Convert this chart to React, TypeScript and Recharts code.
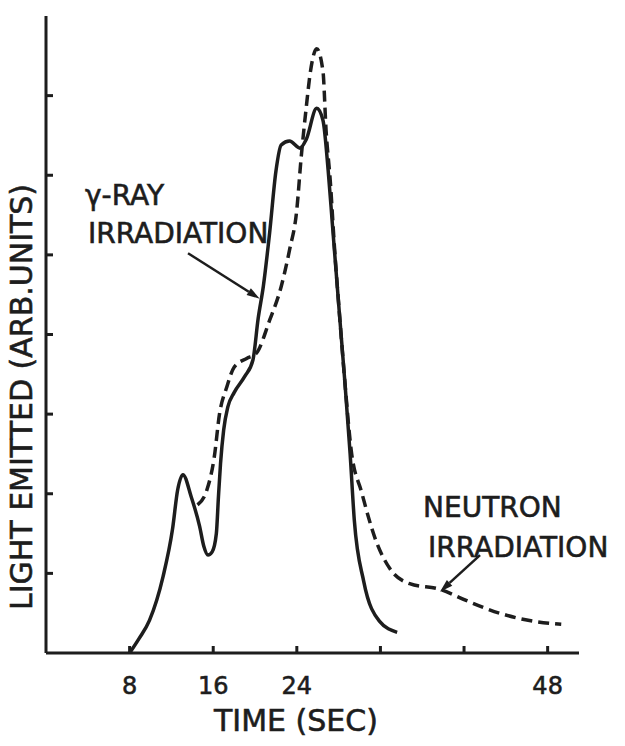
import { LineChart, Line, XAxis, YAxis, ReferenceLine } from "recharts";

// Light emitted vs time, gamma-ray irradiation (solid trace)
const gammaTime = [
  8.0, 8.9, 9.9, 11.2, 12.1, 12.6, 13.1, 13.9, 14.7, 15.1, 15.5, 15.9, 16.3, 16.5, 16.7, 17.0, 17.4, 18.0,
  19.0, 19.8, 20.3, 20.8, 21.4, 22.0, 22.5, 23.3, 24.3, 24.9, 25.9, 26.5, 27.0, 27.4, 28.1, 28.6, 29.1,
  29.5, 30.4, 31.9, 33.6,
];
const gammaLight = [
  0, 0.18, 0.41, 0.96, 1.55, 2.05, 2.24, 1.96, 1.59, 1.34, 1.23, 1.27, 1.5, 1.96, 2.38, 2.8, 3.09, 3.27,
  3.47, 3.68, 4.2, 4.61, 5.28, 6.05, 6.38, 6.43, 6.34, 6.45, 6.84, 6.69, 6.06, 5.39, 4.22, 3.4, 2.5, 1.67,
  0.9, 0.4, 0.26,
];

// Neutron irradiation (dashed trace)
const neutronTime = [
  14.5, 15.4, 16.1, 16.6, 17.3, 18.0, 19.2, 20.1, 21.4, 22.5, 23.3, 24.0, 24.4, 24.9, 25.3, 25.9, 26.5,
  26.8, 27.2, 27.6, 28.1, 28.6, 29.2, 30.2, 31.6, 32.9, 34.8, 37.7, 40.2, 43.4, 46.6, 49.3,
];
const neutronLight = [
  1.86, 2.05, 2.46, 3.0, 3.34, 3.59, 3.7, 3.76, 4.18, 4.6, 5.06, 5.57, 6.2, 6.85, 7.3, 7.59, 7.31, 6.56,
  5.93, 5.1, 4.22, 3.4, 2.55, 2.02, 1.4, 1.06, 0.87, 0.8, 0.66, 0.5, 0.4, 0.36,
];

const xTicks = [8, 16, 24, 32, 40, 48];
const xTickLabels = ["8", "16", "24", "", "", "48"];
const yTicks = [1, 2, 3, 4, 5, 6, 7];

// callout arrows: [start, tip] in (time, light) units
const gammaArrow = [
  { x: 13.59, y: 5.02 },
  { x: 20.45, y: 4.45 },
];
const neutronArrow = [
  { x: 41.53, y: 1.23 },
  { x: 37.7, y: 0.77 },
];

const INK = "#1d1d1d";
const FONT = "DejaVu Sans";
// hand lettering is heavier than the plain face
const TEXT_STYLE = { fontFamily: FONT, fill: INK, stroke: INK, strokeWidth: 0.6 };

const gammaData = gammaTime.map((t, i) => ({ t, v: gammaLight[i] }));
const neutronData = neutronTime.map((t, i) => ({ t, v: neutronLight[i] }));

const XTick = ({ x, y, payload }: any) => {
  const label = xTickLabels[xTicks.indexOf(payload.value)];
  return (
    <g>
      <line x1={x} y1={y} x2={x} y2={y - 7} stroke={INK} strokeWidth={3} />
      <text x={x} y={y + 41} textAnchor="middle" fontSize={24} {...TEXT_STYLE}>
        {label}
      </text>
    </g>
  );
};

const YTick = ({ x, y }: any) => <line x1={x} y1={y} x2={x + 7} y2={y} stroke={INK} strokeWidth={3} />;

const YTitle = () => (
  <text x={32} y={397} transform="rotate(-90 32 397)" textAnchor="middle" fontSize={30} {...TEXT_STYLE}>
    LIGHT EMITTED (ARB.UNITS)
  </text>
);

const XTitle = () => (
  <text x={296} y={731} textAnchor="middle" fontSize={30} {...TEXT_STYLE}>
    TIME (SEC)
  </text>
);

// arrow from (x1,y1) to a filled head at (x2,y2), with note text placed relative to the tail
function Callout(props: any) {
  const { x1, y1, x2, y2, notes } = props;
  const ang = Math.atan2(y2 - y1, x2 - x1);
  const len = 13;
  const half = 4;
  const bx = x2 - len * Math.cos(ang);
  const by = y2 - len * Math.sin(ang);
  const px = -Math.sin(ang) * half;
  const py = Math.cos(ang) * half;
  return (
    <g>
      <line x1={x1} y1={y1} x2={bx} y2={by} stroke={INK} strokeWidth={2.5} />
      <polygon points={`${x2},${y2} ${bx + px},${by + py} ${bx - px},${by - py}`} fill={INK} />
      {notes.map((n: any) => (
        <text key={n.text} x={x1 + n.dx} y={y1 + n.dy} fontSize={28} {...TEXT_STYLE}>
          {n.text}
        </text>
      ))}
    </g>
  );
}

export default function App() {
  return (
    <div style={{ position: "absolute", left: 0, top: 0, width: 625, height: 746, background: "#fff" }}>
      <LineChart width={625} height={746} margin={{ top: 16, right: 46, bottom: 33, left: 0 }}>
        <XAxis
          dataKey="t"
          type="number"
          domain={[0, 51]}
          ticks={xTicks}
          height={60}
          tickSize={0}
          tickMargin={0}
          tickLine={false}
          tick={<XTick />}
          axisLine={{ stroke: INK, strokeWidth: 3 }}
          label={<XTitle />}
        />
        <YAxis
          dataKey="v"
          type="number"
          domain={[0, 8]}
          ticks={yTicks}
          width={46}
          tickSize={0}
          tickMargin={0}
          tickLine={false}
          tick={<YTick />}
          axisLine={{ stroke: INK, strokeWidth: 3 }}
          label={<YTitle />}
        />
        <Line
          data={gammaData}
          dataKey="v"
          type="monotone"
          stroke={INK}
          strokeWidth={3.5}
          dot={false}
          isAnimationActive={false}
        />
        <Line
          data={neutronData}
          dataKey="v"
          type="monotone"
          stroke={INK}
          strokeWidth={3.5}
          strokeDasharray="11 6"
          dot={false}
          isAnimationActive={false}
        />
        <ReferenceLine
          segment={gammaArrow}
          shape={(p: any) => (
            <Callout
              {...p}
              notes={[
                { text: "γ-RAY", dx: -103, dy: -48 },
                { text: "IRRADIATION", dx: -100, dy: -10 },
              ]}
            />
          )}
        />
        <ReferenceLine
          segment={neutronArrow}
          shape={(p: any) => (
            <Callout
              {...p}
              notes={[
                { text: "NEUTRON", dx: -57, dy: -38 },
                { text: "IRRADIATION", dx: -52, dy: 2 },
              ]}
            />
          )}
        />
      </LineChart>
    </div>
  );
}
